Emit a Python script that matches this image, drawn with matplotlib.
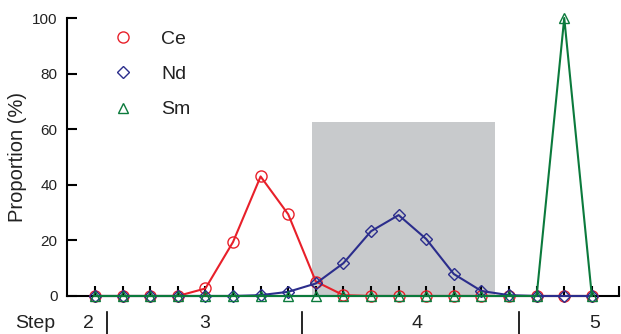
import numpy as np
import matplotlib.pyplot as plt
from matplotlib.lines import Line2D
import matplotlib.transforms as mtransforms

plt.rcParams['font.family'] = ['Liberation Sans', 'DejaVu Sans']

# fraction number along the x axis
frac = np.arange(1, 20)
ce = [0, 0, 0, 0, 2.7, 19.4, 43, 29.4, 5.2, 0.3, 0, 0, 0, 0, 0, 0, 0, 0, 0]
nd = [0, 0, 0, 0, 0, 0, 0.3, 1.5, 4.5, 11.8, 23.3, 29.1, 20.5, 7.9, 1.8, 0.3, 0, 0, 0]
sm = [0, 0, 0, 0, 0, 0, 0, 0, 0, 0, 0, 0, 0, 0, 0, 0, 0, 100, 0]

steps = ['2', '3', '4', '5']
step_pos = [0.78, 4.98, 12.67, 19.1]
step_sep = [1.43, 8.5, 16.37]

red = '#e8202a'
blue = '#2b2d8c'
green = '#0b7a3c'
txt = '#222222'

fig = plt.figure(figsize=(6.21, 3.34), dpi=100)
ax = fig.add_axes([0.1085, 0.1138, 0.889, 0.8323])

# shaded region
ax.axvspan(8.85, 15.5, ymin=0, ymax=0.626, color='#c8cacc', lw=0, zorder=0)

ax.plot(frac, ce, color=red, lw=1.5, marker='o', ms=8, mfc='none', mec=red,
        mew=1.0, clip_on=False, zorder=3)
ax.plot(frac, nd, color=blue, lw=1.5, marker='D', ms=6.5, mfc='none', mec=blue,
        mew=1.0, clip_on=False, zorder=4)
ax.plot(frac, sm, color=green, lw=1.5, marker='^', ms=7, mfc='none', mec=green,
        mew=1.0, clip_on=False, zorder=5)

ax.set_xlim(0, 20)
ax.set_ylim(0, 100)
ax.set_xticks(np.arange(1, 21))
ax.set_xticklabels([])
ax.set_yticks([0, 20, 40, 60, 80, 100])
ax.tick_params(axis='both', direction='in', length=7, width=1.5, colors='black',
               labelsize=11, labelcolor=txt)
ax.tick_params(axis='y', pad=7)
for s in ['top', 'right']:
    ax.spines[s].set_visible(False)
for s in ['left', 'bottom']:
    ax.spines[s].set_linewidth(1.5)
ax.set_ylabel('Proportion (%)', fontsize=14.5, color=txt, labelpad=4)

handles = [
    Line2D([], [], ls='none', marker='o', ms=8, mfc='none', mec=red, mew=1.0),
    Line2D([], [], ls='none', marker='D', ms=6, mfc='none', mec=blue, mew=1.0),
    Line2D([], [], ls='none', marker='^', ms=7, mfc='none', mec=green, mew=1.0),
]
ax.legend(handles, ['Ce', 'Nd', 'Sm'], loc='upper left', bbox_to_anchor=(0.0795, 0.955),
          frameon=False, handlelength=1.2, handletextpad=1.36, labelspacing=0.9,
          borderpad=0, borderaxespad=0, fontsize=14, labelcolor=txt)

# step annotations below the axis
trans = mtransforms.blended_transform_factory(ax.transData, ax.transAxes)
ax.text(-1.17, -0.1, 'Step', transform=trans, ha='center', va='center',
        fontsize=14, color=txt)
for lab, x in zip(steps, step_pos):
    ax.text(x, -0.1, lab, transform=trans, ha='center', va='center',
            fontsize=14, color=txt)
for x in step_sep:
    ax.plot([x, x], [-0.058, -0.135], transform=trans, color='black', lw=1.2,
            clip_on=False)

fig.savefig('out.png', dpi=100)
